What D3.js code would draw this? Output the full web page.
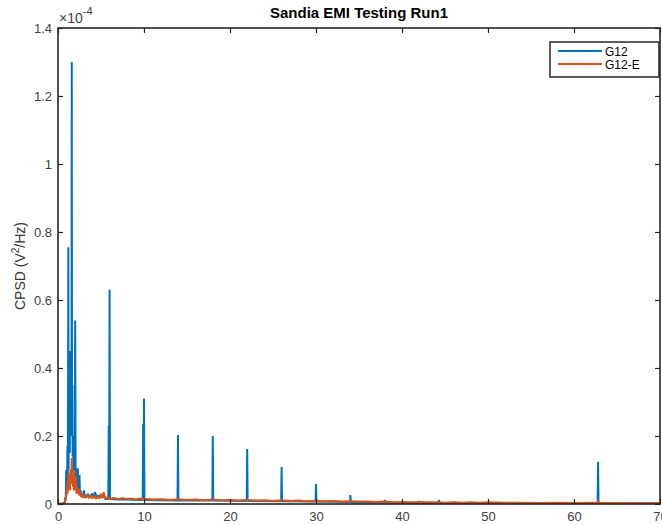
<!DOCTYPE html>
<html>
<head>
<meta charset="utf-8">
<script src="https://cdn.jsdelivr.net/npm/d3@7"></script>
<style>
  body { margin: 0; background: #fff; }
  svg { font-family: "Liberation Sans", Arial, Helvetica, sans-serif; }
</style>
</head>
<body>
<div id="chart"></div>
<script>
// CPSD values in units of 1e-4 V^2/Hz, frequency on x
var g12 = [
  [0,0],[0.5,0.001],[0.8,0.003],[0.85,0.02],[0.9,0.01],[0.95,0.10],[1.0,0.03],[1.05,0.06],
  [1.1,0.17],[1.15,0.05],[1.2,0.755],[1.23,0.1],[1.27,0.3],[1.3,0.2],[1.33,0.35],[1.37,0.15],
  [1.4,0.45],[1.43,0.2],[1.47,0.38],[1.5,0.25],[1.53,0.4],[1.57,0.2],[1.6,1.30],[1.63,0.3],
  [1.67,0.35],[1.7,0.14],[1.75,0.2],[1.8,0.1],[1.85,0.15],[1.9,0.08],[1.95,0.12],[2.0,0.54],
  [2.05,0.06],[2.1,0.105],[2.15,0.05],[2.2,0.07],[2.25,0.04],[2.3,0.105],[2.35,0.04],[2.4,0.06],
  [2.5,0.085],[2.55,0.03],[2.6,0.04],[2.7,0.025],[2.8,0.03],[2.9,0.02],[3.0,0.04],[3.1,0.025],
  [3.3,0.02],[3.5,0.03],[3.6,0.02],[3.8,0.025],[4.0,0.03],[4.2,0.02],[4.3,0.035],[4.5,0.02],
  [4.7,0.025],[5.0,0.02],[5.3,0.025],[5.5,0.015],[5.85,0.015],[5.9,0.23],[5.95,0.015],
  [6.0,0.63],[6.05,0.015],[7,0.013],[8,0.013],[9.85,0.012],[9.9,0.235],[9.95,0.012],
  [10,0.31],[10.05,0.012],[13.9,0.01],[13.95,0.203],[14.0,0.01],[17.95,0.01],[18,0.20],
  [18.05,0.01],[21.95,0.009],[22,0.162],[22.05,0.009],[25.95,0.008],[26,0.109],[26.05,0.008],
  [29.95,0.007],[30,0.059],[30.05,0.007],[33.95,0.006],[34,0.026],[34.05,0.005],[37.95,0.004],
  [38,0.012],[38.05,0.004],[41.95,0.003],[42,0.009],[42.05,0.003],[44.25,0.003],[44.3,0.012],
  [44.35,0.003],[45.95,0.003],[46,0.006],[46.05,0.003],[62.75,0.002],[62.8,0.124],
  [62.85,0.002],[70,0.002]
];

var g12e = [
  [0,0],[0.5,0.002],[0.8,0.005],[0.9,0.02],[1.0,0.03],[1.05,0.05],[1.1,0.03],[1.15,0.07],
  [1.2,0.04],[1.25,0.09],[1.3,0.05],[1.35,0.08],[1.4,0.04],[1.45,0.1],[1.5,0.06],[1.55,0.09],
  [1.6,0.135],[1.65,0.07],[1.7,0.1],[1.75,0.05],[1.8,0.08],[1.85,0.04],[1.9,0.1],[1.95,0.05],
  [2.0,0.07],[2.05,0.04],[2.1,0.08],[2.15,0.03],[2.2,0.05],[2.3,0.03],[2.4,0.045],[2.5,0.025],
  [2.6,0.035],[2.7,0.02],[2.8,0.03],[2.9,0.018],[3.0,0.025],[3.2,0.018],[3.4,0.028],[3.6,0.017],
  [3.8,0.024],[4.0,0.016],[4.2,0.026],[4.4,0.015],[4.6,0.022],[4.8,0.016],[5.0,0.03],[5.2,0.017],
  [5.3,0.035],[5.5,0.016],[5.8,0.02],[6.0,0.015],[6.5,0.018],[7,0.014],[7.5,0.017],[8,0.015],
  [8.5,0.016],[9,0.013],[9.5,0.016],[10,0.014],[10.5,0.015],[11,0.013],[12,0.014],[13,0.012],
  [14,0.014],[15,0.012],[16,0.013],[17,0.011],[18,0.013],[19,0.011],[20,0.012],[21,0.010],
  [22,0.012],[23,0.010],[24,0.011],[25,0.009],[26,0.011],[27,0.009],[28,0.010],[29,0.008],
  [30,0.009],[31,0.008],[32,0.009],[33,0.007],[34,0.008],[35,0.007],[36,0.007],[37,0.006],
  [38,0.007],[39,0.005],[40,0.006],[41,0.005],[42,0.006],[43,0.005],[44,0.005],[45,0.004],
  [46,0.005],[47,0.004],[48,0.005],[49,0.004],[50,0.005],[52,0.004],[54,0.004],[56,0.003],
  [58,0.004],[60,0.003],[62,0.004],[62.75,0.003],[62.8,0.012],[62.85,0.003],[64,0.003],
  [66,0.003],[68,0.002],[70,0.003]
];

var xTicks = [0, 10, 20, 30, 40, 50, 60, 70];
var yTicks = [0, 0.2, 0.4, 0.6, 0.8, 1, 1.2, 1.4];
var seriesNames = ["G12", "G12-E"];
var seriesColors = ["#0072BD", "#D95319"];

var W = 662, H = 525;
var padL = 58, padR = 660, padT = 28, padB = 504;
var axisCol = "#262626";

var svg = d3.select("#chart").append("svg").attr("width", W).attr("height", H);

var x = d3.scaleLinear().domain([0, 70]).range([padL, padR]);
var y = d3.scaleLinear().domain([0, 1.4]).range([padB, padT]);

svg.append("defs").append("clipPath").attr("id", "clip")
  .append("rect").attr("x", padL).attr("y", padT).attr("width", padR - padL).attr("height", padB - padT);

var line = d3.line().x(function(d){ return x(d[0]); }).y(function(d){ return y(d[1]); });

var plot = svg.append("g").attr("clip-path", "url(#clip)");
[g12, g12e].forEach(function(s, i){
  plot.append("path").datum(s)
    .attr("d", line)
    .attr("fill", "none")
    .attr("stroke", seriesColors[i])
    .attr("stroke-width", i === 0 ? 2 : 2)
    .attr("stroke-linejoin", "bevel");
});

function styleAxis(g){
  g.select(".domain").remove();
  g.selectAll(".tick line").attr("stroke", axisCol).attr("stroke-width", 1.2);
  g.selectAll(".tick text").attr("fill", "#404040").style("font-size", "13px");
}

var fmt = function(d){ return String(+d.toFixed(1)); };

svg.append("g").attr("transform", "translate(0," + padB + ")")
  .call(d3.axisBottom(x).tickValues(xTicks).tickSize(-5).tickPadding(8).tickFormat(fmt))
  .call(styleAxis);
svg.append("g").attr("transform", "translate(0," + padT + ")")
  .call(d3.axisTop(x).tickValues(xTicks).tickSize(-5).tickFormat(""))
  .call(styleAxis);
svg.append("g").attr("transform", "translate(" + padL + ",0)")
  .call(d3.axisLeft(y).tickValues(yTicks).tickSize(-5).tickPadding(6).tickFormat(fmt))
  .call(styleAxis);
svg.append("g").attr("transform", "translate(" + padR + ",0)")
  .call(d3.axisRight(y).tickValues(yTicks).tickSize(-5).tickFormat(""))
  .call(styleAxis);

// box
svg.append("rect").attr("x", padL).attr("y", padT)
  .attr("width", padR - padL).attr("height", padB - padT)
  .attr("fill", "none").attr("stroke", axisCol).attr("stroke-width", 1.6);

// exponent
var ex = svg.append("text").attr("x", padL + 1).attr("y", 23)
  .attr("fill", "#404040").style("font-size", "14px");
ex.append("tspan").text("\u00d710");
ex.append("tspan").attr("dy", -8).style("font-size", "11px").text("-4");

// title
svg.append("text").attr("x", (padL + padR) / 2).attr("y", 18)
  .attr("text-anchor", "middle").style("font-size", "15px").style("font-weight", "bold")
  .attr("fill", "#000").text("Sandia EMI Testing Run1");

// y label
var yl = svg.append("text")
  .attr("transform", "translate(25," + ((padT + padB) / 2) + ") rotate(-90)")
  .attr("text-anchor", "middle").attr("fill", "#333").style("font-size", "14px");
yl.append("tspan").text("CPSD (V");
yl.append("tspan").attr("dy", -6).style("font-size", "10px").text("2");
yl.append("tspan").attr("dy", 6).text("/Hz)");

// legend
var lg = svg.append("g");
lg.append("rect").attr("x", 550).attr("y", 42).attr("width", 109).attr("height", 35)
  .attr("fill", "#fff").attr("stroke", axisCol).attr("stroke-width", 1.5);
seriesNames.forEach(function(n, i){
  var ly = 51 + i * 13;
  lg.append("line").attr("x1", 558).attr("x2", 602).attr("y1", ly).attr("y2", ly)
    .attr("stroke", seriesColors[i]).attr("stroke-width", 2);
  lg.append("text").attr("x", 605).attr("y", ly + 4.5).attr("fill", "#000")
    .style("font-size", "12px").text(n);
});
</script>
</body>
</html>
